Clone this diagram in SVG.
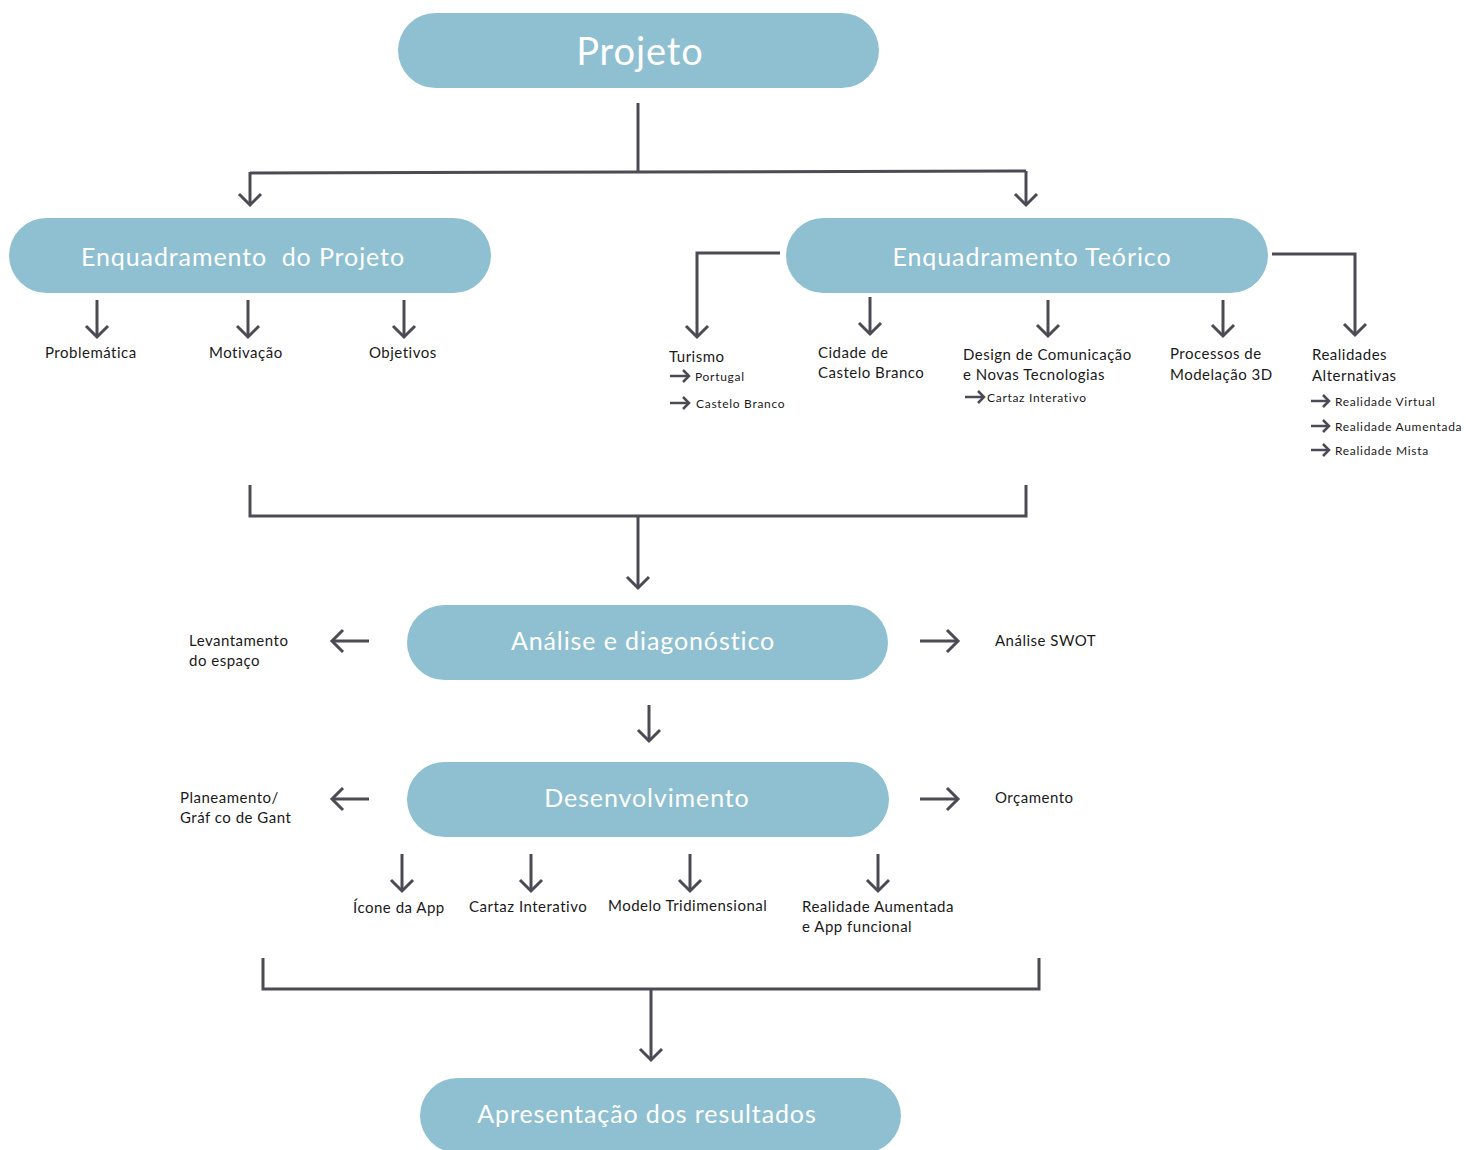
<svg xmlns="http://www.w3.org/2000/svg" width="1466" height="1150" viewBox="0 0 1466 1150">
<style>
.pill{fill:#8fc0d1}
.pt{fill:#ffffff;font-family:Lato,"Open Sans",sans-serif;text-anchor:middle;letter-spacing:0.9px}
.lb{fill:#1a1a1a;font-family:Lato,"Open Sans",sans-serif;font-size:15px;letter-spacing:0.5px}
.sm{fill:#1a1a1a;font-family:Lato,"Open Sans",sans-serif;font-size:12px;letter-spacing:0.7px}
.ln{fill:none;stroke:#4b4a55;stroke-width:3}
.ar{fill:none;stroke:#4b4a55;stroke-width:3;marker-end:url(#chev)}
.ars{fill:none;stroke:#4b4a55;stroke-width:2.5;marker-end:url(#chevs)}
</style>
<defs>
<marker id="chev" markerUnits="userSpaceOnUse" orient="auto" markerWidth="30" markerHeight="30" viewBox="-15 -15 30 30" refX="0" refY="0" overflow="visible">
<path d="M-11,-11 L0,0 L-11,11" fill="none" stroke="#4b4a55" stroke-width="3"/>
</marker>
<marker id="chevs" markerUnits="userSpaceOnUse" orient="auto" markerWidth="20" markerHeight="20" viewBox="-10 -10 20 20" refX="0" refY="0" overflow="visible">
<path d="M-6,-6 L0,0 L-6,6" fill="none" stroke="#4b4a55" stroke-width="2.5"/>
</marker>
</defs>

<g id="connectors">
<path class="ln" d="M638,103 V172"/>
<path class="ln" d="M250,173 L1026,171"/>
<path class="ar" d="M250,172 V205"/>
<path class="ar" d="M1026,171 V205"/>
<path class="ar" d="M97,300 V337"/>
<path class="ar" d="M248,300 V337"/>
<path class="ar" d="M404,300 V337"/>
<path class="ar" d="M780,253 H697 V337"/>
<path class="ar" d="M870,297 V334"/>
<path class="ar" d="M1048,300 V336"/>
<path class="ar" d="M1223,300 V336"/>
<path class="ar" d="M1272,254 H1355 V335"/>
<path class="ars" d="M670,376 H689"/>
<path class="ars" d="M670,403 H689"/>
<path class="ars" d="M965,397 H984"/>
<path class="ars" d="M1311,401 H1329"/>
<path class="ars" d="M1311,426 H1329"/>
<path class="ars" d="M1311,450 H1329"/>
<path class="ln" d="M250,485 V516 L1026,516 V485"/>
<path class="ar" d="M638,516 V588"/>
<path class="ar" d="M369,641 H332"/>
<path class="ar" d="M920,641 H958"/>
<path class="ar" d="M649,705 V741"/>
<path class="ar" d="M369,799 H332"/>
<path class="ar" d="M920,799 H958"/>
<path class="ar" d="M402,854 V891"/>
<path class="ar" d="M531,854 V891"/>
<path class="ar" d="M690,854 V891"/>
<path class="ar" d="M878,854 V891"/>
<path class="ln" d="M263,958 V989 H1039 V958"/>
<path class="ar" d="M651,989 V1060"/>
</g>

<g id="projeto">
<rect class="pill" x="398" y="13" width="481" height="75" rx="37.5"/>
<text class="pt" x="640" y="65" font-size="38" letter-spacing="1.4">Projeto</text>
</g>
<g id="enq-projeto">
<rect class="pill" x="9" y="218" width="482" height="75" rx="37.5"/>
<text class="pt" x="243" y="266" font-size="25" xml:space="preserve">Enquadramento  do Projeto</text>
</g>
<g id="enq-teorico">
<rect class="pill" x="786" y="218" width="482" height="75" rx="37.5"/>
<text class="pt" x="1032" y="266" font-size="25">Enquadramento Teórico</text>
</g>
<g id="problematica"><text class="lb" x="45" y="358">Problemática</text></g>
<g id="motivacao"><text class="lb" x="209" y="358">Motivação</text></g>
<g id="objetivos"><text class="lb" x="369" y="358">Objetivos</text></g>
<g id="turismo">
<text class="lb" x="669" y="362">Turismo</text>
<text class="sm" x="695" y="381">Portugal</text>
<text class="sm" x="696" y="408">Castelo Branco</text>
</g>
<g id="cidade">
<text class="lb" x="818" y="358">Cidade de</text>
<text class="lb" x="818" y="378">Castelo Branco</text>
</g>
<g id="design">
<text class="lb" x="963" y="360">Design de Comunicação</text>
<text class="lb" x="963" y="380">e Novas Tecnologias</text>
<text class="sm" x="987" y="402">Cartaz Interativo</text>
</g>
<g id="processos">
<text class="lb" x="1170" y="359">Processos de</text>
<text class="lb" x="1170" y="380">Modelação 3D</text>
</g>
<g id="realidades">
<text class="lb" x="1312" y="360">Realidades</text>
<text class="lb" x="1312" y="381">Alternativas</text>
<text class="sm" x="1335" y="406">Realidade Virtual</text>
<text class="sm" x="1335" y="431">Realidade Aumentada</text>
<text class="sm" x="1335" y="455">Realidade Mista</text>
</g>
<g id="analise">
<rect class="pill" x="407" y="605" width="481" height="75" rx="37.5"/>
<text class="pt" x="643" y="650" font-size="25">Análise e diagonóstico</text>
</g>
<g id="levantamento">
<text class="lb" x="189" y="646">Levantamento</text>
<text class="lb" x="189" y="666">do espaço</text>
</g>
<g id="swot"><text class="lb" x="995" y="646">Análise SWOT</text></g>
<g id="desenvolvimento">
<rect class="pill" x="407" y="762" width="482" height="75" rx="37.5"/>
<text class="pt" x="647" y="807" font-size="25">Desenvolvimento</text>
</g>
<g id="planeamento">
<text class="lb" x="180" y="803">Planeamento/</text>
<text class="lb" x="180" y="823">Gráf co de Gant</text>
</g>
<g id="orcamento"><text class="lb" x="995" y="803">Orçamento</text></g>
<g id="icone"><text class="lb" x="353" y="913">Ícone da App</text></g>
<g id="cartaz"><text class="lb" x="469" y="912">Cartaz Interativo</text></g>
<g id="modelo"><text class="lb" x="608" y="911">Modelo Tridimensional</text></g>
<g id="ra-app">
<text class="lb" x="802" y="912">Realidade Aumentada</text>
<text class="lb" x="802" y="932">e App funcional</text>
</g>
<g id="apresentacao">
<rect class="pill" x="420" y="1078" width="481" height="75" rx="37.5"/>
<text class="pt" x="647" y="1123" font-size="25">Apresentação dos resultados</text>
</g>
</svg>
